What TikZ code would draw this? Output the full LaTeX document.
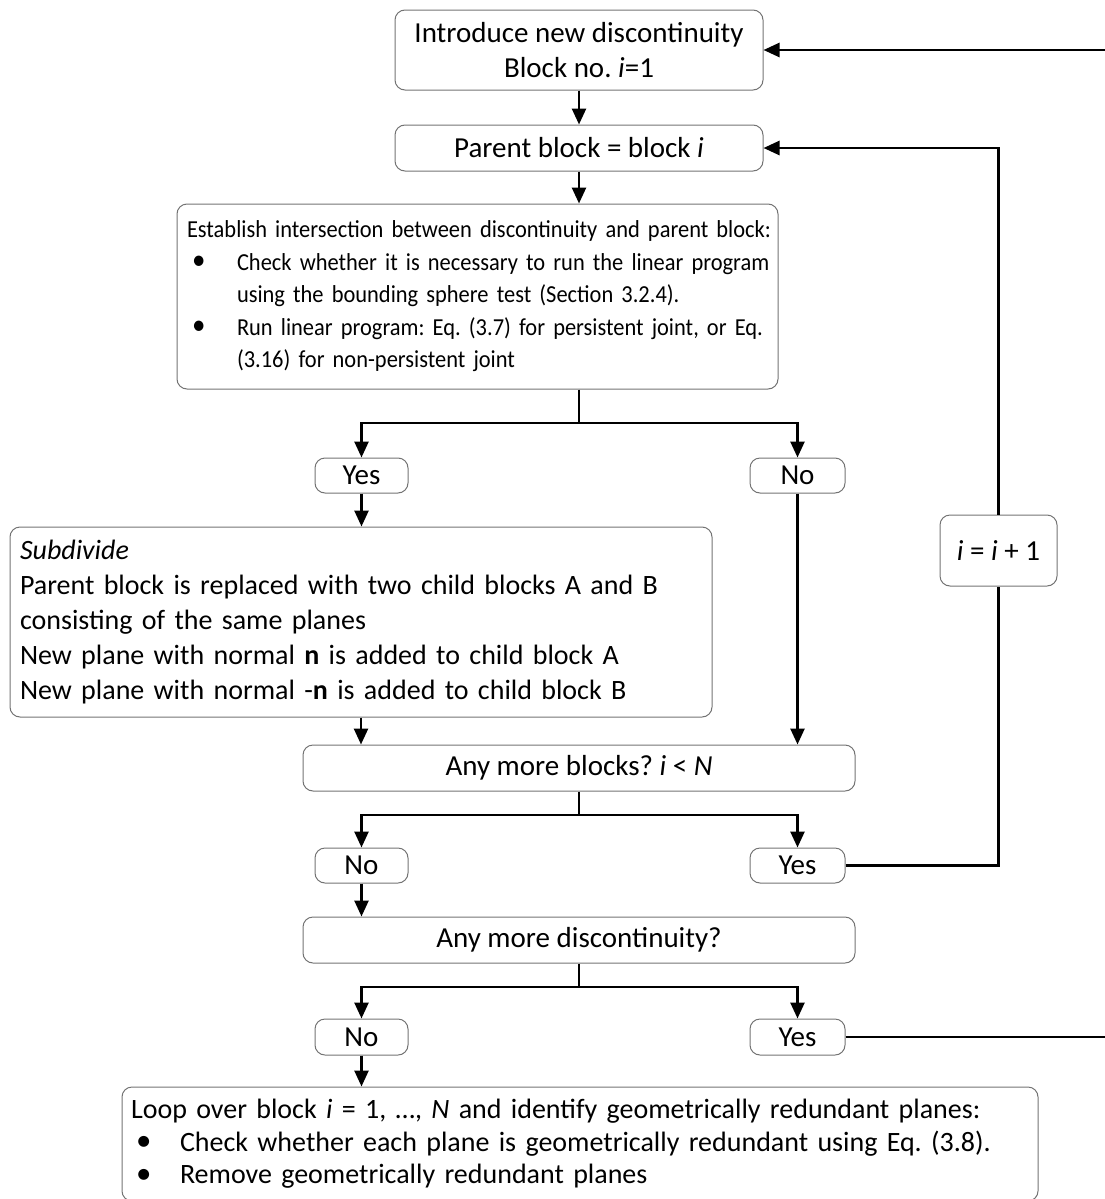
\documentclass[tikz,border=0pt]{standalone}
\usepackage{fontspec}
\setmainfont{Carlito}
\frenchspacing
\usetikzlibrary{arrows.meta,calc}
\tikzset{
  box/.style={draw=black!55, line width=0.5pt, rounded corners=5pt, inner sep=0pt,
    align=center, font=\fontsize{14.5pt}{17.5pt}\selectfont},
  lbox/.style={box, align=left},
  conn/.style={line width=1.3pt},
  arr/.style={conn, -{Triangle[length=8pt,width=7pt]}}
}
\newcommand{\bul}{\makebox[25pt][l]{\hspace{2.5pt}\raisebox{0.3pt}{\scalebox{1.2}{•}}}}
\newcommand{\bulb}{\makebox[24.5pt][l]{\hspace{2.5pt}\raisebox{0.3pt}{\scalebox{1.1}{•}}}}
\begin{document}
\begin{tikzpicture}[x=0.5pt,y=-0.5pt]
\useasboundingbox (0,0) rectangle (1104,1199);

\node[box, minimum width=184pt, minimum height=40pt] (b1) at (579,50)
  {Introduce new discontinuity\\Block no. \textit{i}=1};
\node[box, minimum width=184pt, minimum height=23pt] (b2) at (579,148)
  {Parent block = block \textit{i}};
\node[lbox, text width=290.5pt, inner xsep=5pt, minimum height=92.5pt,
      font=\fontsize{12.2pt}{16.25pt}\selectfont\addfontfeatures{FakeStretch=0.92}] (b3) at (477.5,296.5)
  {\mbox{Establish intersection between discontinuity and parent block:}\\
   \mbox{\bul Check whether it is necessary to run the linear program}\\
   \mbox{\hspace*{25pt}using the bounding sphere test (Section 3.2.4).}\\
   \mbox{\bul Run linear program: Eq. (3.7) for persistent joint, or Eq.}\\
   \mbox{\hspace*{25pt}(3.16) for non-persistent joint}\par\vspace{10pt}};
\node[box, minimum width=46.5pt, minimum height=17.5pt] (y1) at (361.5,475.5) {Yes};
\node[box, minimum width=47.5pt, minimum height=17.5pt] (n1) at (797.5,475.5) {No};
\node[lbox, text width=341pt, inner xsep=5pt, minimum height=95pt,
      font=\fontsize{14pt}{17.5pt}\selectfont] (sub) at (361,622)
  {\textit{Subdivide}\\
   Parent block is replaced with two child blocks A and B\\
   consisting of the same planes\\
   New plane with normal \textbf{n} is added to child block A\\
   New plane with normal -\textbf{n} is added to child block B\par\vspace{8pt}};
\node[box, minimum width=276pt, minimum height=23pt] (q1) at (579,768)
  {Any more blocks? \textit{i} < \textit{N}};
\node[box, minimum width=46.5pt, minimum height=17.5pt] (n2) at (361.5,865.5) {No};
\node[box, minimum width=47.5pt, minimum height=17.5pt] (y2) at (797.5,865.5) {Yes};
\node[box, minimum width=276pt, minimum height=23pt] (q2) at (579,940)
  {Any more discontinuity?};
\node[box, minimum width=46.5pt, minimum height=18pt] (n3) at (361.5,1037) {No};
\node[box, minimum width=47.5pt, minimum height=18pt] (y3) at (797.5,1037) {Yes};
\node[lbox, text width=449pt, inner xsep=4.5pt, minimum height=57pt,
      font=\fontsize{14pt}{16.25pt}\selectfont] (fin) at (580,1144)
  {\mbox{Loop over block \textit{i} = 1, …, \textit{N} and identify geometrically redundant planes:}\\
   \mbox{\bulb Check whether each plane is geometrically redundant using Eq. (3.8).}\\
   \mbox{\bulb Remove geometrically redundant planes}};
\node[box, minimum width=58.5pt, minimum height=35.5pt] (lbl) at (998.5,550.5)
  {\textit{i} = \textit{i} + 1};

\coordinate (br1) at (579,423);
\coordinate (br2) at (579,815);
\coordinate (br3) at (579,987);
\coordinate (edge) at (1112,0);

\draw[arr] (b1) -- (b2);
\draw[arr] (b2.south) -- (b3.north -| b2.south);
\draw[conn] (b3.south -| br1) -- (br1);
\draw[arr] (br1) -| (y1);
\draw[arr] (br1) -| (n1);
\draw[arr] (y1) -- (y1 |- sub.north);
\draw[arr] (sub.south) -- (sub.south |- q1.north);
\draw[arr] (n1) -- (n1 |- q1.north);
\draw[conn] (q1.south -| br2) -- (br2);
\draw[arr] (br2) -| (n2);
\draw[arr] (br2) -| (y2);
\draw[conn] (y2.east) -- (y2.east -| lbl) -- (lbl.south);
\draw[arr] (lbl.north) |- (b2.east);
\draw[arr] (n2) -- (n2 |- q2.north);
\draw[conn] (q2.south -| br3) -- (br3);
\draw[arr] (br3) -| (n3);
\draw[arr] (br3) -| (y3);
\draw[arr] (y3.east) -- (y3.east -| edge) |- (b1.east);
\draw[arr] (n3) -- (n3 |- fin.north);
\end{tikzpicture}
\end{document}
